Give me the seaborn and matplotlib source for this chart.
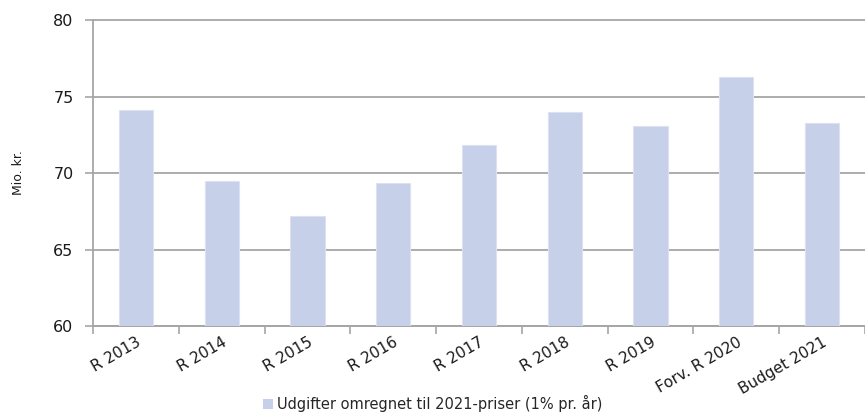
import pandas as pd
import matplotlib
matplotlib.use("Agg")
import matplotlib.pyplot as plt
import seaborn as sns
from matplotlib.patches import Patch

# data
categories = ["R 2013", "R 2014", "R 2015", "R 2016", "R 2017",
              "R 2018", "R 2019", "Forv. R 2020", "Budget 2021"]
values = [74.1, 69.5, 67.2, 69.35, 71.85, 74.0, 73.05, 76.3, 73.25]
series_name = "Udgifter omregnet til 2021-priser (1% pr. år)"
y_ticks = [60, 65, 70, 75, 80]

bar_color = "#C6D0E8"
grid_color = "#A6A6A6"

sns.set_style("white")
plt.rcParams["font.family"] = ["DejaVu Sans"]

df = pd.DataFrame({"kategori": categories, "udgift": values})

fig = plt.figure(figsize=(8.65, 4.19), dpi=100)
ax = fig.add_axes([0.1075, 0.222, 0.8925, 0.730])

sns.barplot(data=df, x="kategori", y="udgift", color=bar_color,
            width=0.4, saturation=1, ax=ax, zorder=3, edgecolor="#DCE2F1", linewidth=0.8)

ax.set_ylim(60, 80)
ax.set_xlim(-0.5, len(categories) - 0.5)
ax.set_yticks(y_ticks)
ax.yaxis.grid(True, color=grid_color, linewidth=1.3, zorder=0)
for line in ax.get_ygridlines():
    line.set_clip_on(False)
ax.set_axisbelow(True)

# category separators as ticks under the axis (Excel style)
ax.set_xticks([i - 0.5 for i in range(len(categories) + 1)], minor=True)
ax.tick_params(axis="x", which="minor", length=6, width=1.2, color=grid_color, bottom=True)
ax.tick_params(axis="x", which="major", length=0, labelsize=11, pad=6, labelcolor="#1a1a1a")
ax.tick_params(axis="y", which="major", length=6, width=1.2, color=grid_color, left=True,
               labelsize=11.5, pad=8, labelcolor="#1a1a1a")
plt.setp(ax.get_xticklabels(), rotation=30, ha="right", rotation_mode="anchor")

for side in ["top", "right"]:
    ax.spines[side].set_visible(False)
ax.spines["left"].set_color(grid_color)
ax.spines["left"].set_linewidth(1.3)
ax.spines["bottom"].set_color(grid_color)
ax.spines["bottom"].set_linewidth(1.3)

ax.set_xlabel("")
ax.set_ylabel("Mio. kr.", fontsize=9, labelpad=20, color="#1a1a1a")

handles = [Patch(facecolor=bar_color, edgecolor="none", label=series_name)]
fig.legend(handles=handles, loc="lower center", bbox_to_anchor=(0.5, -0.015),
           frameon=False, fontsize=10.5, handlelength=0.7, handleheight=0.7,
           handletextpad=0.3)

fig.savefig("out.png", dpi=100)
